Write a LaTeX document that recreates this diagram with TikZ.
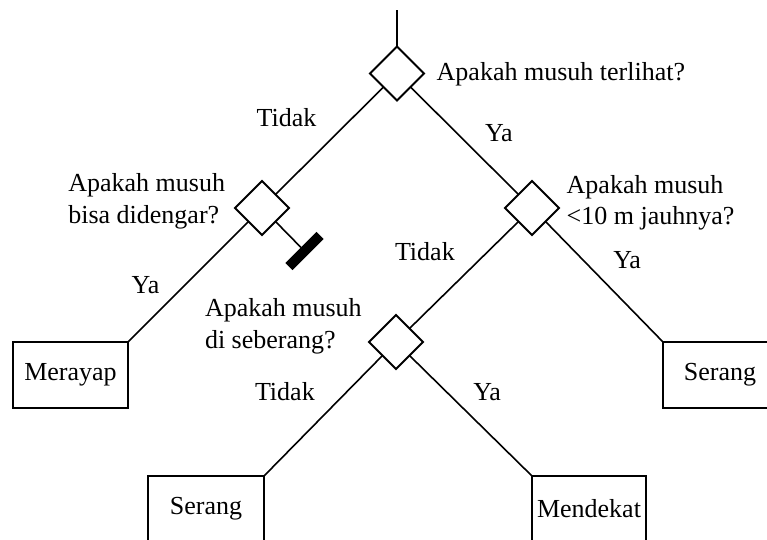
\documentclass[tikz,border=0pt]{standalone}
\usepackage{fontspec}
\setmainfont{Liberation Serif}
\usetikzlibrary{shapes.geometric,calc}
\newcommand\treefont{\fontsize{26}{31.6}\selectfont}
\begin{document}
\begin{tikzpicture}[x=1pt,y=-1pt,
  decision/.style={draw, shape=diamond, line width=1.8pt, minimum width=54pt,
    minimum height=54pt, inner sep=0pt, outer sep=0pt, line join=miter},
  action/.style={draw, rectangle, line width=1.8pt, minimum height=66pt,
    inner sep=0pt, outer sep=0pt, font=\treefont},
  link/.style={line width=1.6pt},
  lbl/.style={inner sep=0pt, outer sep=0pt, anchor=base west, font=\treefont},
  stopbar/.style={fill=black, rectangle, minimum width=44pt, minimum height=10pt,
    inner sep=0pt, outer sep=0pt, rotate=45},
]
\useasboundingbox (0,0) rectangle (767,539);
\clip (0,0) rectangle (767,539);

% decisions
\node[decision] (seen)  at (397,73.5) {};
\node[decision] (heard) at (262,208) {};
\node[decision] (near)  at (532,208) {};
\node[decision] (across) at (396,342) {};

% actions
\node[action, minimum width=115pt] (creep)   at (70.5,375) {Merayap};
\node[action, minimum width=114pt] (attackA) at (720,375) {Serang};
\node[action, minimum width=116pt] (attackB) at (206,509) {Serang};
\node[action, minimum width=114pt] (approach) at (589,509) {Mendekat};

% dead end
\node[stopbar] (bar) at (304.5,251) {};
\coordinate (entry) at (397,10);

% connectors
\draw[link] (entry) -- (seen.north);
\draw[link] ($(seen.south)!0.5!(seen.west)$) -- ($(heard.north)!0.5!(heard.east)$);
\draw[link] ($(seen.south)!0.5!(seen.east)$) -- ($(near.north)!0.5!(near.west)$);
\draw[link] ($(heard.south)!0.5!(heard.west)$) -- (creep.north east);
\draw[link] ($(heard.south)!0.5!(heard.east)$) -- (bar.north);
\draw[link] ($(near.south)!0.5!(near.east)$) -- (attackA.north west);
\draw[link] ($(near.south)!0.5!(near.west)$) -- ($(across.north)!0.5!(across.east)$);
\draw[link] ($(across.south)!0.5!(across.west)$) -- (attackB.north east);
\draw[link] ($(across.south)!0.5!(across.east)$) -- (approach.north west);

% questions
\node[lbl] (q1) at (436.7,80.7) {Apakah musuh terlihat?};
\node[lbl] (q2) at (68.3,191.7) {\begin{tabular}[t]{@{}l@{}}Apakah musuh\\bisa didengar?\end{tabular}};
\node[lbl] (q3) at (566.7,193.3) {\begin{tabular}[t]{@{}l@{}}Apakah musuh\\<10 m jauhnya?\end{tabular}};
\node[lbl] (q4) at (205,316.7) {\begin{tabular}[t]{@{}l@{}}Apakah musuh\\di seberang?\end{tabular}};

% branch labels
\node[lbl] (n1) at (256.7,126.7) {Tidak};
\node[lbl] (y1) at (485,141.7) {Ya};
\node[lbl] (y2) at (131.7,293.3) {Ya};
\node[lbl] (n2) at (395,260) {Tidak};
\node[lbl] (y3) at (613.3,268.3) {Ya};
\node[lbl] (n3) at (255,400) {Tidak};
\node[lbl] (y4) at (473.3,400) {Ya};
\end{tikzpicture}
\end{document}
